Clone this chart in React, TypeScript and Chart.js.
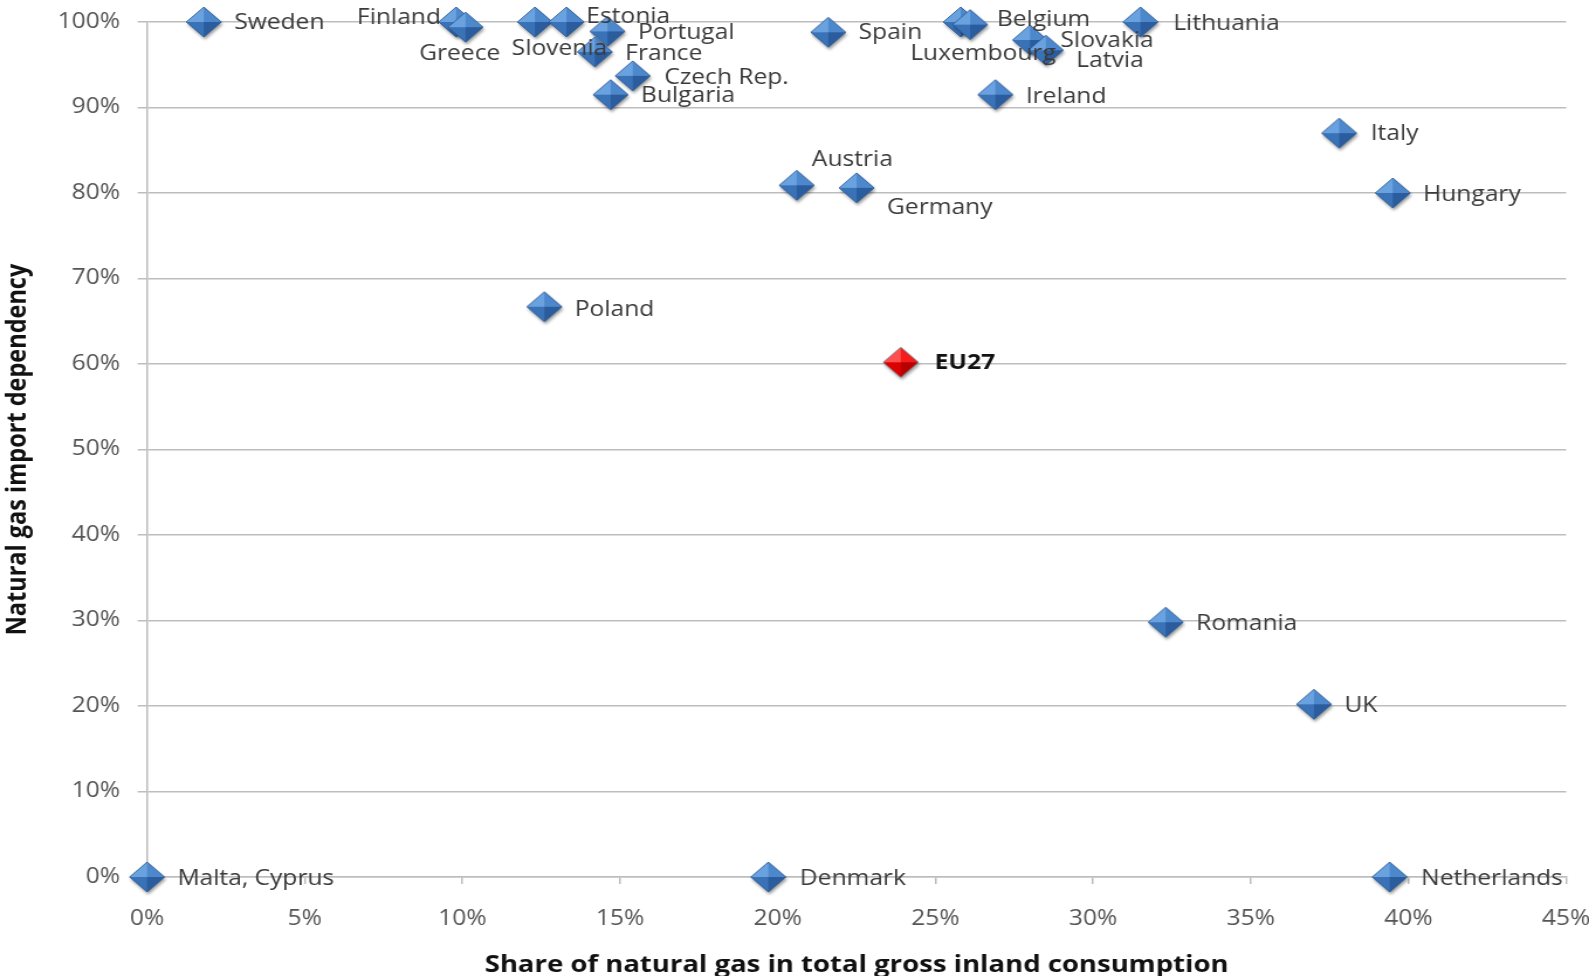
import React, { useEffect, useRef } from "react";
import { Chart, registerables } from "chart.js";

Chart.register(...registerables);

// ---- data ----
const countries = [
  "Sweden", "Finland", "Greece", "Slovenia", "Estonia", "Portugal", "France",
  "Czech Rep.", "Bulgaria", "Spain", "Belgium", "Luxembourg", "Slovakia", "Latvia",
  "Lithuania", "Ireland", "Italy", "Hungary", "Austria", "Germany", "Poland",
  "Romania", "UK", "Malta, Cyprus", "Denmark", "Netherlands",
];
// Share of natural gas in total gross inland consumption (%)
const gasShare = [
  1.8, 9.8, 10.1, 12.3, 13.3, 14.6, 14.2,
  15.4, 14.7, 21.6, 25.8, 26.1, 28.0, 28.5,
  31.5, 26.9, 37.8, 39.5, 20.6, 22.5, 12.6,
  32.3, 37.0, 0, 19.7, 39.4,
];
// Natural gas import dependency (%)
const importDependency = [
  100, 100, 99.4, 100, 100, 98.9, 96.5,
  93.7, 91.5, 98.8, 100, 99.7, 97.9, 96.7,
  100, 91.5, 87.0, 80.0, 80.9, 80.6, 66.7,
  29.8, 20.2, 0, 0, 0,
];
const euName = "EU27";
const euGasShare = 23.9;
const euImportDependency = 60.2;

const xTickValues = [0, 5, 10, 15, 20, 25, 30, 35, 40, 45];
const yTickValues = [0, 10, 20, 30, 40, 50, 60, 70, 80, 90, 100];

// ---- label placement (pixel offsets from each marker) ----
type Place = { dx: number; dy: number; align: CanvasTextAlign };
const labelPlacement: Record<string, Place> = {
  Sweden: { dx: 26, dy: 1, align: "left" },
  Finland: { dx: -13, dy: -4, align: "right" },
  Greece: { dx: -5, dy: 27, align: "center" },
  Slovenia: { dx: 21, dy: 27, align: "center" },
  Estonia: { dx: 17, dy: -5, align: "left" },
  Portugal: { dx: 26, dy: 2, align: "left" },
  France: { dx: 26, dy: 2, align: "left" },
  "Czech Rep.": { dx: 27, dy: 2, align: "left" },
  Bulgaria: { dx: 26, dy: 1, align: "left" },
  Spain: { dx: 26, dy: 1, align: "left" },
  Belgium: { dx: 31, dy: -2, align: "left" },
  Luxembourg: { dx: 11, dy: 29, align: "center" },
  Slovakia: { dx: 26, dy: 1, align: "left" },
  Latvia: { dx: 26, dy: 11, align: "left" },
  Lithuania: { dx: 28, dy: 2, align: "left" },
  Ireland: { dx: 26, dy: 2, align: "left" },
  Italy: { dx: 27, dy: 1, align: "left" },
  Hungary: { dx: 26, dy: 2, align: "left" },
  Austria: { dx: 13, dy: -25, align: "left" },
  Germany: { dx: 26, dy: 20, align: "left" },
  Poland: { dx: 26, dy: 3, align: "left" },
  Romania: { dx: 26, dy: 2, align: "left" },
  UK: { dx: 26, dy: 2, align: "left" },
  "Malta, Cyprus": { dx: 26, dy: 2, align: "left" },
  Denmark: { dx: 27, dy: 2, align: "left" },
  Netherlands: { dx: 27, dy: 2, align: "left" },
  EU27: { dx: 29, dy: 1, align: "left" },
};

// ---- page geometry ----
const PAGE_W = 1589;
const PAGE_H = 976;
const STRETCH = 1.17; // the drawing is widened horizontally on the page
const CANVAS_W = Math.round(PAGE_W / STRETCH);
const FONT = "'Open Sans', 'DejaVu Sans', sans-serif";

// Bevelled diamond marker drawn once into a small canvas.
function makeDiamond(c: { tl: string; tr: string; bl: string; br: string; edge: string }) {
  const half = 15;
  const pad = 5;
  const size = half * 2 + pad * 2;
  const cv = document.createElement("canvas");
  cv.width = size;
  cv.height = size;
  const g = cv.getContext("2d")!;
  const cx = size / 2;
  const cy = size / 2;
  const top = [cx, cy - half];
  const right = [cx + half, cy];
  const bottom = [cx, cy + half];
  const left = [cx - half, cy];
  const outline = () => {
    g.beginPath();
    g.moveTo(top[0], top[1]);
    g.lineTo(right[0], right[1]);
    g.lineTo(bottom[0], bottom[1]);
    g.lineTo(left[0], left[1]);
    g.closePath();
  };
  g.save();
  g.shadowColor = "rgba(0,0,0,0.4)";
  g.shadowBlur = 3;
  g.shadowOffsetX = 1;
  g.shadowOffsetY = 2.5;
  outline();
  g.fillStyle = c.edge;
  g.fill();
  g.restore();
  const facet = (a: number[], b: number[], col: string) => {
    g.beginPath();
    g.moveTo(a[0], a[1]);
    g.lineTo(b[0], b[1]);
    g.lineTo(cx, cy);
    g.closePath();
    g.fillStyle = col;
    g.fill();
  };
  facet(left, top, c.tl);
  facet(top, right, c.tr);
  facet(left, bottom, c.bl);
  facet(bottom, right, c.br);
  outline();
  g.lineWidth = 0.8;
  g.strokeStyle = c.edge;
  g.stroke();
  return cv;
}

const pointLabelPlugin = {
  id: "pointNameLabels",
  afterDatasetsDraw(chart: any) {
    const ctx: CanvasRenderingContext2D = chart.ctx;
    chart.data.datasets.forEach((ds: any, di: number) => {
      const meta = chart.getDatasetMeta(di);
      meta.data.forEach((pt: any, i: number) => {
        const name: string = ds.names[i];
        const place = labelPlacement[name] || { dx: 26, dy: 2, align: "left" };
        ctx.save();
        ctx.font = `${ds.labelBold ? "bold " : ""}21px ${FONT}`;
        ctx.fillStyle = ds.labelBold ? "#111111" : "#3a3a3a";
        ctx.textAlign = place.align;
        ctx.textBaseline = "middle";
        ctx.fillText(name, pt.x + place.dx, pt.y + place.dy);
        ctx.restore();
      });
    });
  },
};

const whiteBackground = {
  id: "whiteBackground",
  beforeDraw(chart: any) {
    const ctx = chart.ctx;
    ctx.save();
    ctx.fillStyle = "#ffffff";
    ctx.fillRect(0, 0, chart.width, chart.height);
    ctx.restore();
  },
};

export default function App() {
  const canvasRef = useRef<HTMLCanvasElement | null>(null);

  useEffect(() => {
    const canvas = canvasRef.current;
    if (!canvas) return;
    const blue = makeDiamond({ tl: "#6aa2e0", tr: "#4d88cd", bl: "#3a72b8", br: "#2b5c9e", edge: "#285890" });
    const red = makeDiamond({ tl: "#ff5050", tr: "#f41c1c", bl: "#dc0000", br: "#b90000", edge: "#6e6e7a" });

    const gridColor = "#bdbdbd";
    const tickFont = { family: FONT, size: 21 };
    const titleFont = { family: FONT, size: 23.5, weight: "bold" as const, lineHeight: 0.9 };

    const chart = new Chart(canvas, {
      type: "scatter",
      data: {
        datasets: [
          {
            data: countries.map((_, i) => ({ x: gasShare[i], y: importDependency[i] })),
            pointStyle: blue,
            pointRadius: 15,
            clip: false,
            names: countries,
          } as any,
          {
            data: [{ x: euGasShare, y: euImportDependency }],
            pointStyle: red,
            pointRadius: 15,
            clip: false,
            names: [euName],
            labelBold: true,
          } as any,
        ],
      },
      options: {
        responsive: false,
        animation: false,
        devicePixelRatio: 1,
        layout: { padding: { top: 22, right: 19.5, left: 0, bottom: 0 } },
        plugins: { legend: { display: false }, tooltip: { enabled: false } },
        scales: {
          x: {
            type: "linear",
            min: xTickValues[0],
            max: xTickValues[xTickValues.length - 1],
            afterBuildTicks: (s: any) => {
              s.ticks = xTickValues.map((v) => ({ value: v }));
            },
            ticks: {
              callback: (v: any) => `${v}%`,
              font: tickFont,
              color: "#555555",
              padding: 22,
              maxRotation: 0,
              autoSkip: false,
            },
            grid: { drawOnChartArea: false, drawTicks: true, tickLength: 7, color: gridColor, lineWidth: 1.5 },
            border: { display: true, color: gridColor, width: 1.5 },
            title: {
              display: true,
              text: "Share of natural gas in total gross inland consumption",
              font: titleFont,
              color: "#111111",
              padding: { top: 0, bottom: 0 },
            },
            afterFit: (s: any) => {
              s.height = PAGE_H - 877;
              s.paddingLeft = 0;
              s.paddingRight = 0;
            },
          },
          y: {
            type: "linear",
            min: yTickValues[0],
            max: yTickValues[yTickValues.length - 1],
            afterBuildTicks: (s: any) => {
              s.ticks = yTickValues.map((v) => ({ value: v }));
            },
            ticks: {
              callback: (v: any) => `${v}%`,
              font: tickFont,
              color: "#555555",
              padding: 15,
              autoSkip: false,
            },
            grid: { color: gridColor, lineWidth: 1.5, tickLength: 8 },
            border: { display: true, color: gridColor, width: 1.5 },
            title: {
              display: true,
              text: "Natural gas import dependency",
              font: titleFont,
              color: "#111111",
              padding: { top: 5, bottom: 0 },
            },
            afterFit: (s: any) => {
              s.width = 147 / STRETCH;
              s.paddingTop = 0;
              s.paddingBottom = 0;
            },
          },
        },
      } as any,
      plugins: [whiteBackground, pointLabelPlugin],
    });

    return () => chart.destroy();
  }, []);

  return (
    <div style={{ position: "fixed", left: 0, top: 0, width: PAGE_W, height: PAGE_H, background: "#fff" }}>
      <canvas
        ref={canvasRef}
        width={CANVAS_W}
        height={PAGE_H}
        style={{ display: "block", width: `${PAGE_W}px`, height: `${PAGE_H}px` }}
      />
    </div>
  );
}
